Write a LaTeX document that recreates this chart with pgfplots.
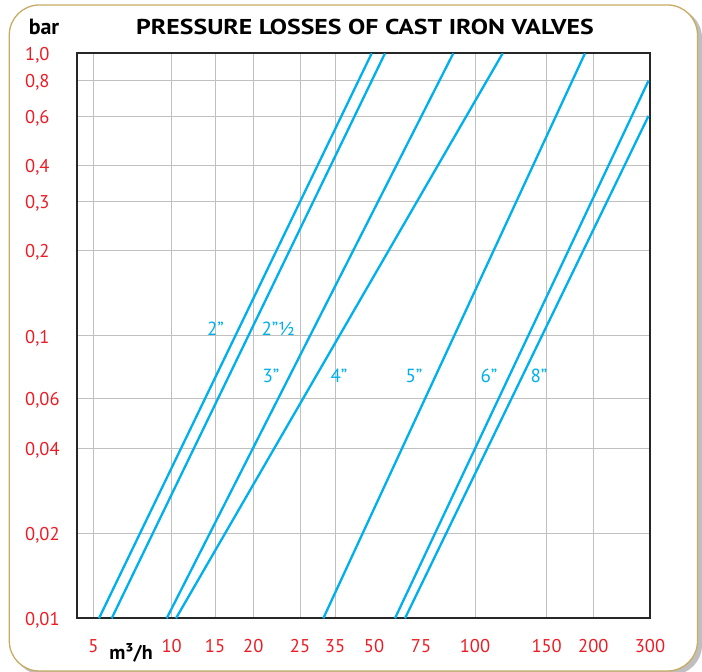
\documentclass[border=0pt]{standalone}
\usepackage{fontspec}
\setmainfont{PT Sans}
\usepackage{pgfplots}
\pgfplotsset{compat=1.18}
\definecolor{cy}{RGB}{0,176,236}
\definecolor{rd}{RGB}{237,28,36}
\definecolor{gold}{RGB}{200,172,100}
\definecolor{gridc}{RGB}{192,192,192}
\pgfplotsset{valve/.style={cy, line width=2.3pt, solid, mark=none}}
\begin{document}
\begin{tikzpicture}[x=1pt,y=1pt]
\useasboundingbox (0,0) rectangle (702,672);
\fill[black!25, rounded corners=30] (13,-3) rectangle (702,664);
\draw[gold, line width=1.3pt, fill=white, rounded corners=30] (9.3,1) rectangle (697.5,667);
\node[font=\bfseries\fontsize{22}{24}\selectfont, anchor=base, inner sep=0pt] at (44,637) {bar};
\node[font=\bfseries\fontsize{21.5}{24}\selectfont, anchor=base, inner sep=0pt, xscale=1.2] at (365,637) {PRESSURE LOSSES OF CAST IRON VALVES};
\node[font=\bfseries\fontsize{20}{22}\selectfont, anchor=base, inner sep=0pt] at (131,12) {m³/h};
\begin{axis}[
  at={(77.4pt,53.7pt)}, anchor=south west, scale only axis,
  width=572.6pt, height=565pt,
  xmin=77.4, xmax=650, ymode=log, ymin=0.01, ymax=1,
  xtick={93.3,171.7,215,253.3,300,335,475,546.7,593.3,650},
  xticklabels={5,10,15,20,25,35,100,150,200,300},
  extra x ticks={374,421}, extra x tick labels={50,75},
  extra x tick style={grid=none},
  ytick={0.01,0.02,0.04,0.06,0.1,0.2,0.3,0.4,0.6,0.8,1},
  yticklabels={{0,01},{0,02},{0,04},{0,06},{0,1},{0,2},{0,3},{0,4},{0,6},{0,8},{1,0}},
  grid=major, major grid style={gridc, line width=0.9pt},
  major tick length=0pt, minor tick num=0,
  axis line style={line width=2pt, black!85},
  xticklabel style={font=\fontsize{18.5}{20}\selectfont, text=rd, anchor=north, inner sep=0pt, yshift=-21pt},
  yticklabel style={font=\fontsize{18.5}{20}\selectfont, text=rd, anchor=west, inner sep=0pt, xshift=-52.4pt, yshift=-2pt},
]
% x values: positions along the (non-uniform) flow scale
\addplot[valve] coordinates {(99,0.01) (371.7,1)};
\addplot[valve] coordinates {(111.7,0.01) (385,1)};
\addplot[valve] coordinates {(166.7,0.01) (453.3,1)};
\addplot[valve] coordinates {(176,0.01) (502.7,1)};
\addplot[valve] coordinates {(323.3,0.01) (585,1)};
\addplot[valve] coordinates {(395,0.01) (648.5,0.8)};
\addplot[valve] coordinates {(405,0.01) (648.5,0.6)};
\begin{scope}[every node/.style={text=cy, font=\fontsize{19}{21}\selectfont, inner sep=0pt}]
\node at (axis cs:215.5,0.1057) {2”};
\node at (axis cs:278,0.1057) {2”½};
\node at (axis cs:271,0.0720) {3”};
\node at (axis cs:339,0.0720) {4”};
\node at (axis cs:414,0.0720) {5”};
\node at (axis cs:489,0.0720) {6”};
\node at (axis cs:539,0.0720) {8”};
\end{scope}
\end{axis}
\end{tikzpicture}
\end{document}
